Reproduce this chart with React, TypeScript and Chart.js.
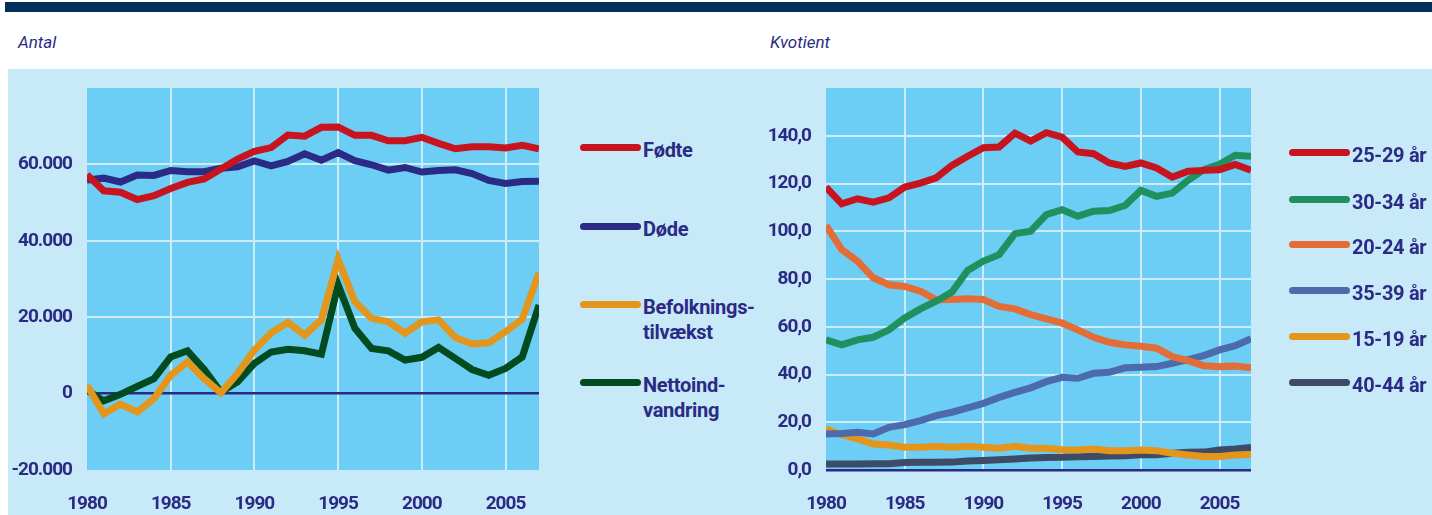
import React, { useEffect, useRef } from "react";
import { Chart, registerables } from "chart.js";

Chart.register(...registerables);

// ---------- DATA ----------
const years = [
  1980, 1981, 1982, 1983, 1984, 1985, 1986, 1987, 1988, 1989, 1990, 1991, 1992, 1993,
  1994, 1995, 1996, 1997, 1998, 1999, 2000, 2001, 2002, 2003, 2004, 2005, 2006, 2007,
];

// Left chart: Antal
const fodte = [
  57300, 53100, 52700, 50800, 51800, 53700, 55300, 56200, 58800, 61400, 63400, 64400, 67700, 67400,
  69700, 69800, 67600, 67600, 66200, 66200, 67100, 65500, 64100, 64600, 64600, 64300, 65000, 64100,
];
const dode = [
  55900, 56400, 55400, 57200, 57100, 58400, 58100, 58100, 59000, 59400, 60900, 59600, 60800, 62800,
  61100, 63100, 61000, 59900, 58500, 59200, 58000, 58400, 58600, 57600, 55800, 55000, 55500, 55600,
];
const befolkningstilvaekst = [
  2200, -5300, -2800, -4800, -1300, 4800, 8300, 3900, 200, 5300, 11400, 15900, 18600, 15300,
  19300, 35100, 24100, 19700, 18800, 15800, 18800, 19300, 14700, 13000, 13300, 16200, 19500, 31600,
];
const nettoindvandring = [
  900, -1900, -200, 1900, 3900, 9600, 11200, 6300, 400, 3100, 7900, 10900, 11600, 11200,
  10300, 28500, 17100, 11800, 11200, 8800, 9500, 12100, 9200, 6300, 4800, 6600, 9600, 23200,
];

// Right chart: Kvotient
const aar25_29 = [
  118.5, 111.5, 113.6, 112.2, 114.0, 118.5, 120.2, 122.4, 127.6, 131.4, 135.0, 135.3, 141.1, 137.8,
  141.3, 139.4, 133.2, 132.5, 128.6, 127.2, 128.6, 126.5, 122.7, 125.1, 125.5, 125.8, 128.0, 125.6,
];
const aar30_34 = [
  54.5, 52.4, 54.5, 55.6, 58.7, 63.7, 67.5, 70.7, 74.5, 83.6, 87.5, 90.2, 99.0, 100.0,
  107.0, 109.0, 106.3, 108.4, 108.7, 110.8, 117.1, 114.6, 116.0, 121.3, 125.8, 128.0, 131.8, 131.4,
];
const aar20_24 = [
  102.4, 92.3, 87.5, 80.5, 77.6, 76.9, 74.9, 71.3, 71.4, 71.7, 71.4, 68.5, 67.5, 65.1,
  63.3, 61.5, 58.7, 55.6, 53.5, 52.4, 51.8, 51.0, 47.5, 45.8, 43.7, 43.3, 43.6, 42.8,
];
const aar35_39 = [
  15.1, 15.3, 15.8, 15.1, 17.9, 19.0, 20.7, 22.8, 24.2, 26.0, 27.9, 30.4, 32.5, 34.4,
  37.0, 38.8, 38.4, 40.5, 40.9, 42.8, 43.0, 43.3, 44.7, 46.2, 47.9, 50.3, 52.1, 55.0,
];
const aar15_19 = [
  17.2, 14.8, 13.0, 10.9, 10.5, 9.5, 9.5, 9.9, 9.5, 9.9, 9.5, 9.1, 9.9, 9.1,
  9.1, 8.5, 8.4, 8.8, 8.1, 8.1, 8.4, 8.1, 7.0, 6.3, 5.7, 5.7, 6.3, 6.5,
];
const aar40_44 = [
  2.5, 2.5, 2.5, 2.6, 2.6, 3.1, 3.2, 3.2, 3.3, 3.8, 4.0, 4.3, 4.6, 5.0,
  5.2, 5.3, 5.6, 5.7, 5.9, 6.0, 6.4, 6.4, 7.0, 7.4, 7.5, 8.4, 8.8, 9.4,
];

const leftLabels = [["Fødte"], ["Døde"], ["Befolknings-", "tilvækst"], ["Nettoind-", "vandring"]];
const rightLabels = [["25-29 år"], ["30-34 år"], ["20-24 år"], ["35-39 år"], ["15-19 år"], ["40-44 år"]];
const leftTitle = "Antal";
const rightTitle = "Kvotient";
const leftYTicks = [-20000, 0, 20000, 40000, 60000];
const rightYTicks = [0, 20, 40, 60, 80, 100, 120, 140];
const xTicks = [1980, 1985, 1990, 1995, 2000, 2005];

// ---------- STYLE ----------
const NAVY = "#2b2a85";
const FONT = "Roboto, 'Liberation Sans', sans-serif";
const PLOT_BG = "#6ccef4";
const PANEL_BG = "#c8e9f8";
const GRID = "#cdedfa";

const leftColors = ["#c8141e", "#2b2a85", "#e3961b", "#014b1f"];
const rightColors = ["#c8141e", "#21905f", "#e46c36", "#4c6aac", "#e3961b", "#3e4b67"];

const plotBg = {
  id: "plotBg",
  beforeDraw(chart: any) {
    const { ctx, chartArea } = chart;
    try {
      ctx.letterSpacing = "-1px";
    } catch (e) {}
    if (!chartArea) return;
    ctx.save();
    ctx.fillStyle = PLOT_BG;
    ctx.fillRect(chartArea.left, chartArea.top, chartArea.right - chartArea.left, chartArea.bottom - chartArea.top);
    ctx.restore();
  },
};

function fmtThousands(v: number) {
  const neg = v < 0;
  const s = String(Math.abs(Math.round(v)));
  const out = s.replace(/\B(?=(\d{3})+(?!\d))/g, ".");
  return (neg ? "-" : "") + out;
}
function fmtDecimal(v: number) {
  return v.toFixed(1).replace(".", ",");
}

function makeConfig(
  series: number[][],
  colors: string[],
  names: string[],
  yMin: number,
  yMax: number,
  yTicks: number[],
  yFmt: (v: number) => string,
  yWidth: number,
  rightPad: number
): any {
  return {
    type: "line",
    data: {
      datasets: series.map((s, i) => ({
        label: names[i],
        data: years.map((y, j) => ({ x: y, y: s[j] })),
        borderColor: colors[i],
        backgroundColor: colors[i],
        borderWidth: 7,
        pointRadius: 0,
        tension: 0,
        clip: 0,
        borderCapStyle: "butt",
        borderJoinStyle: "miter",
      })),
    },
    options: {
      animation: false,
      responsive: false,
      events: [],
      layout: { padding: { left: 0, right: rightPad, top: 19, bottom: 0 } },
      plugins: { legend: { display: false }, tooltip: { enabled: false } },
      scales: {
        x: {
          type: "linear",
          min: 1980,
          max: 2007,
          afterBuildTicks: (scale: any) => {
            scale.ticks = xTicks.map((v) => ({ value: v }));
          },
          afterFit: (scale: any) => {
            scale.height = 45;
            scale.paddingRight = 0;
            scale.paddingLeft = 0;
          },
          border: { display: false },
          grid: {
            drawTicks: false,
            lineWidth: 2,
            color: (c: any) => (c.tick && c.tick.value === 1980 ? "rgba(0,0,0,0)" : GRID),
          },
          ticks: {
            padding: 23,
            maxRotation: 0,
            autoSkip: false,
            color: NAVY,
            font: { family: FONT, size: 19, weight: "bold" },
            callback: (v: any) => String(v),
          },
        },
        y: {
          type: "linear",
          min: yMin,
          max: yMax,
          afterBuildTicks: (scale: any) => {
            scale.ticks = yTicks.map((v) => ({ value: v }));
          },
          afterFit: (scale: any) => {
            scale.width = yWidth;
            scale.paddingTop = 0;
            scale.paddingBottom = 0;
          },
          border: { display: false },
          grid: {
            drawTicks: false,
            lineWidth: (c: any) => (c.tick && c.tick.value === 0 ? 2.5 : 2),
            color: (c: any) => {
              if (!c.tick) return GRID;
              if (c.tick.value === 0) return NAVY;
              if (c.tick.value === yMin) return "rgba(0,0,0,0)";
              return GRID;
            },
          },
          ticks: {
            padding: 15,
            autoSkip: false,
            color: NAVY,
            font: { family: FONT, size: 19, weight: "bold" },
            callback: (v: any) => yFmt(Number(v)),
          },
        },
      },
    },
    plugins: [plotBg],
  };
}

function Legend({ labels, colors, left, tops }: { labels: string[][]; colors: string[]; left: number; tops: number[] }) {
  return (
    <>
      {labels.map((lines, i) => (
        <div key={i} style={{ position: "absolute", left, top: tops[i] }}>
          <div
            style={{
              position: "absolute",
              left: 0,
              top: -3.5,
              width: 61,
              height: 7,
              borderRadius: 3.5,
              background: colors[i],
            }}
          />
          <div
            style={{
              position: "absolute",
              left: 63,
              top: -9,
              whiteSpace: "nowrap",
              fontFamily: FONT,
              fontWeight: "bold",
              fontSize: 20,
              lineHeight: "25px",
              letterSpacing: "-0.3px",
              color: NAVY,
            }}
          >
            {lines.map((l, k) => (
              <div key={k}>{l}</div>
            ))}
          </div>
        </div>
      ))}
    </>
  );
}

export default function App() {
  const leftRef = useRef<HTMLCanvasElement>(null);
  const rightRef = useRef<HTMLCanvasElement>(null);

  useEffect(() => {
    const c1 = new Chart(
      leftRef.current!,
      makeConfig(
        [fodte, dode, befolkningstilvaekst, nettoindvandring],
        leftColors,
        leftLabels.map((l) => l.join("")),
        -20000,
        80000,
        leftYTicks,
        fmtThousands,
        87,
        1
      )
    );
    const c2 = new Chart(
      rightRef.current!,
      makeConfig(
        [aar25_29, aar30_34, aar20_24, aar35_39, aar15_19, aar40_44],
        rightColors,
        rightLabels.map((l) => l.join("")),
        0,
        160,
        rightYTicks,
        fmtDecimal,
        66,
        181
      )
    );
    return () => {
      c1.destroy();
      c2.destroy();
    };
  }, []);

  const titleStyle: React.CSSProperties = {
    position: "absolute",
    top: 32,
    fontFamily: FONT,
    fontStyle: "italic",
    fontSize: 17,
    color: NAVY,
  };

  return (
    <div style={{ position: "absolute", left: 0, top: 0, width: 1432, height: 515, background: "#fff", overflow: "hidden" }}>
      <div style={{ position: "absolute", left: 5, top: 2, width: 1427, height: 10, background: "#002f5b" }} />
      <div style={{ ...titleStyle, left: 18 }}>{leftTitle}</div>
      <div style={{ ...titleStyle, left: 770 }}>{rightTitle}</div>
      <div style={{ position: "absolute", left: 8, top: 69, width: 1424, height: 446, background: PANEL_BG }} />
      <canvas
        ref={leftRef}
        width={540}
        height={446}
        style={{ position: "absolute", left: 0, top: 69, width: 540, height: 446 }}
      />
      <canvas
        ref={rightRef}
        width={672}
        height={446}
        style={{ position: "absolute", left: 760, top: 69, width: 672, height: 446 }}
      />
      <Legend labels={leftLabels} colors={leftColors} left={580} tops={[147, 226, 304, 382]} />
      <Legend labels={rightLabels} colors={rightColors} left={1289} tops={[152, 199, 244, 290, 336, 382]} />
    </div>
  );
}
